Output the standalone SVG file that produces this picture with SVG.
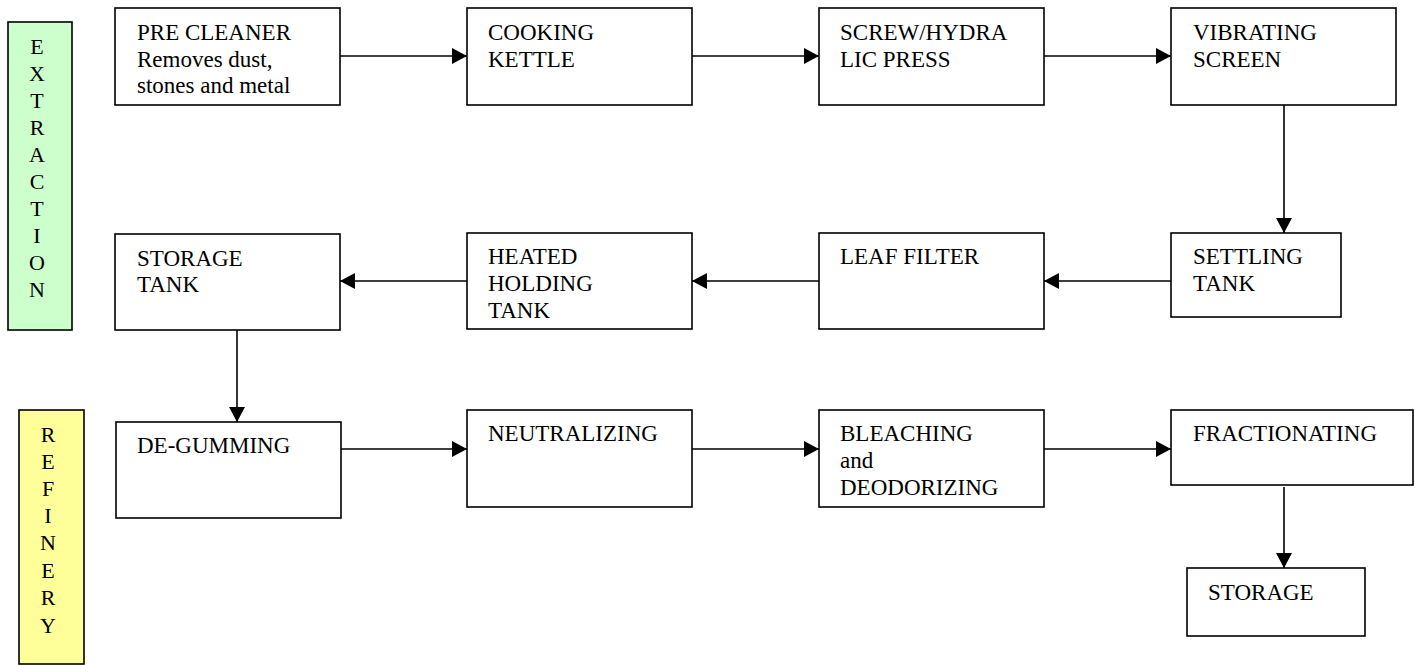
<svg xmlns="http://www.w3.org/2000/svg" width="1415" height="665" viewBox="0 0 1415 665">
<style>
.box{fill:#fff;stroke:#000;stroke-width:1.6}
.t{font-family:"Liberation Serif",serif;font-size:23px;fill:#000}
.lbl{font-family:"Liberation Serif",serif;font-size:22px;fill:#000;text-anchor:middle}
.c{stroke:#000;stroke-width:1.6;fill:none;marker-end:url(#ah)}
</style>
<defs>
<marker id="ah" viewBox="0 0 15 16" refX="15" refY="8" markerWidth="15" markerHeight="16" markerUnits="userSpaceOnUse" orient="auto">
<path d="M0,0 L15,8 L0,16 Z" fill="#000"/>
</marker>
</defs>
<rect width="1415" height="665" fill="#fff"/>
<g id="extraction-label">
<rect x="8" y="22" width="64" height="308" fill="#CCFFCC" stroke="#000" stroke-width="1.6"/>
<text class="lbl" x="37" y="54">E</text>
<text class="lbl" x="37" y="81">X</text>
<text class="lbl" x="37" y="108">T</text>
<text class="lbl" x="37" y="135">R</text>
<text class="lbl" x="37" y="162">A</text>
<text class="lbl" x="37" y="189">C</text>
<text class="lbl" x="37" y="216">T</text>
<text class="lbl" x="37" y="243">I</text>
<text class="lbl" x="37" y="270">O</text>
<text class="lbl" x="37" y="297">N</text>
</g>
<g id="refinery-label">
<rect x="19" y="410" width="65" height="254" fill="#FFFF99" stroke="#000" stroke-width="1.6"/>
<text class="lbl" x="48" y="442">R</text>
<text class="lbl" x="48" y="469">E</text>
<text class="lbl" x="48" y="496">F</text>
<text class="lbl" x="48" y="523">I</text>
<text class="lbl" x="48" y="550">N</text>
<text class="lbl" x="48" y="578">E</text>
<text class="lbl" x="48" y="605">R</text>
<text class="lbl" x="48" y="633">Y</text>
</g>
<g id="pre-cleaner">
<rect class="box" x="115" y="8" width="225" height="97"/>
<text class="t" x="137" y="40">PRE CLEANER</text>
<text class="t" x="137" y="67">Removes dust,</text>
<text class="t" x="137" y="93">stones and metal</text>
</g>
<g id="cooking-kettle">
<rect class="box" x="467" y="8" width="225" height="97"/>
<text class="t" x="488" y="40">COOKING</text>
<text class="t" x="488" y="67">KETTLE</text>
</g>
<g id="press">
<rect class="box" x="819" y="8" width="225" height="97"/>
<text class="t" x="840" y="40">SCREW/HYDRA</text>
<text class="t" x="840" y="67">LIC PRESS</text>
</g>
<g id="vibrating-screen">
<rect class="box" x="1171" y="8" width="225" height="97"/>
<text class="t" x="1193" y="40">VIBRATING</text>
<text class="t" x="1193" y="67">SCREEN</text>
</g>
<g id="settling-tank">
<rect class="box" x="1171" y="233" width="170" height="84"/>
<text class="t" x="1193" y="264">SETTLING</text>
<text class="t" x="1193" y="291">TANK</text>
</g>
<g id="leaf-filter">
<rect class="box" x="819" y="233" width="225" height="96"/>
<text class="t" x="840" y="264">LEAF FILTER</text>
</g>
<g id="heated-holding-tank">
<rect class="box" x="467" y="233" width="225" height="96"/>
<text class="t" x="488" y="264">HEATED</text>
<text class="t" x="488" y="291">HOLDING</text>
<text class="t" x="488" y="318">TANK</text>
</g>
<g id="storage-tank">
<rect class="box" x="115" y="234" width="225" height="96"/>
<text class="t" x="137" y="266">STORAGE</text>
<text class="t" x="137" y="292">TANK</text>
</g>
<g id="de-gumming">
<rect class="box" x="116" y="422" width="225" height="96"/>
<text class="t" x="137" y="453">DE-GUMMING</text>
</g>
<g id="neutralizing">
<rect class="box" x="467" y="410" width="225" height="97"/>
<text class="t" x="488" y="441">NEUTRALIZING</text>
</g>
<g id="bleaching">
<rect class="box" x="819" y="410" width="225" height="97"/>
<text class="t" x="840" y="441">BLEACHING</text>
<text class="t" x="840" y="468">and</text>
<text class="t" x="840" y="495">DEODORIZING</text>
</g>
<g id="fractionating">
<rect class="box" x="1171" y="410" width="242" height="75"/>
<text class="t" x="1193" y="441">FRACTIONATING</text>
</g>
<g id="storage">
<rect class="box" x="1187" y="568" width="178" height="68"/>
<text class="t" x="1208" y="600">STORAGE</text>
</g>
<g id="connectors">
<line class="c" x1="340" y1="56" x2="467" y2="56"/>
<line class="c" x1="692" y1="56" x2="819" y2="56"/>
<line class="c" x1="1044" y1="56" x2="1171" y2="56"/>
<line class="c" x1="1284" y1="105" x2="1284" y2="233"/>
<line class="c" x1="1171" y1="281" x2="1044" y2="281"/>
<line class="c" x1="819" y1="281" x2="692" y2="281"/>
<line class="c" x1="467" y1="281" x2="340" y2="281"/>
<line class="c" x1="237" y1="330" x2="237" y2="422"/>
<line class="c" x1="341" y1="449" x2="467" y2="449"/>
<line class="c" x1="692" y1="449" x2="819" y2="449"/>
<line class="c" x1="1044" y1="449" x2="1171" y2="449"/>
<line class="c" x1="1284" y1="487" x2="1284" y2="568"/>
</g>
</svg>
